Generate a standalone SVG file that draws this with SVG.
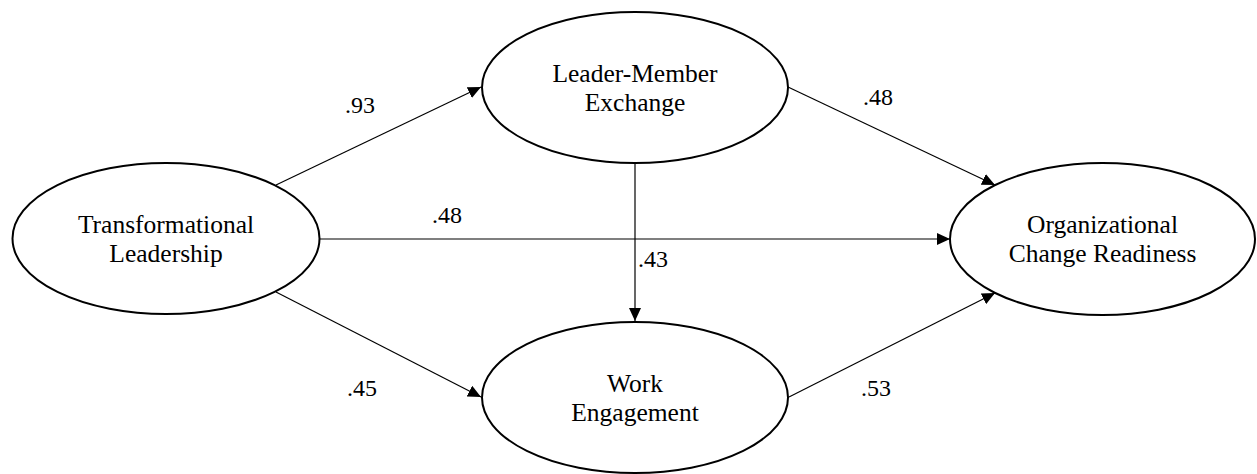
<svg xmlns="http://www.w3.org/2000/svg" width="1257" height="474" viewBox="0 0 1257 474">
  <style>
    .node { fill: #fff; stroke: #000; stroke-width: 2; }
    .name { font-family: 'Liberation Serif', 'Times New Roman', serif; font-size: 25.5px; fill: #000; text-anchor: middle; }
    .coef { font-family: 'Liberation Serif', 'Times New Roman', serif; font-size: 24px; fill: #000; }
    .edge { stroke: #000; stroke-width: 1.2; fill: none; marker-end: url(#head); }
  </style>
  <defs>
    <marker id="head" markerUnits="userSpaceOnUse" markerWidth="14" markerHeight="12" refX="13" refY="6" orient="auto">
      <path d="M0,0 L13,6 L0,12 Z" fill="#000"/>
    </marker>
  </defs>
  <rect width="1257" height="474" fill="#fff"/>

  <!-- paths between constructs -->
  <g id="connectors">
    <line class="edge" x1="276" y1="185" x2="481" y2="87"/>
    <line class="edge" x1="276" y1="292" x2="481" y2="397"/>
    <line class="edge" x1="320" y1="239" x2="950" y2="239"/>
    <line class="edge" x1="788" y1="87" x2="995" y2="185"/>
    <line class="edge" x1="789" y1="397" x2="995" y2="293"/>
    <line class="edge" x1="635" y1="163" x2="635" y2="321"/>
  </g>

  <!-- path coefficients -->
  <g id="coefficients">
    <text class="coef" x="345" y="113">.93</text>
    <text class="coef" x="863" y="105">.48</text>
    <text class="coef" x="432" y="223">.48</text>
    <text class="coef" x="638" y="267">.43</text>
    <text class="coef" x="347" y="396">.45</text>
    <text class="coef" x="861" y="396">.53</text>
  </g>

  <g id="transformational-leadership">
    <ellipse class="node" cx="166" cy="238.5" rx="153.5" ry="75.5"/>
    <text class="name" x="166" y="233">Transformational</text>
    <text class="name" x="166" y="262">Leadership</text>
  </g>

  <g id="leader-member-exchange">
    <ellipse class="node" cx="635" cy="87.5" rx="153" ry="75.5"/>
    <text class="name" x="635" y="82">Leader-Member</text>
    <text class="name" x="635" y="111">Exchange</text>
  </g>

  <g id="work-engagement">
    <ellipse class="node" cx="635" cy="397.5" rx="153" ry="75.5"/>
    <text class="name" x="635" y="392">Work</text>
    <text class="name" x="635" y="421">Engagement</text>
  </g>

  <g id="organizational-change-readiness">
    <ellipse class="node" cx="1102.5" cy="239" rx="152.5" ry="76"/>
    <text class="name" x="1102.5" y="233">Organizational</text>
    <text class="name" x="1102.5" y="262">Change Readiness</text>
  </g>
</svg>
